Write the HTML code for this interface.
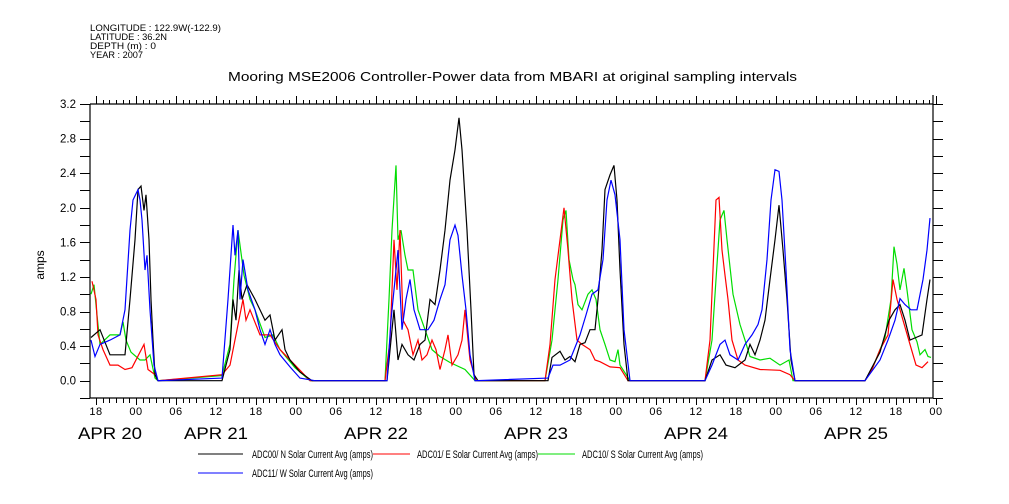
<!DOCTYPE html>
<html><head><meta charset="utf-8"><style>
body{margin:0;background:#fff;}
svg{display:block;font-family:"Liberation Sans",sans-serif;}
</style></head><body>
<svg id="chart" width="1009" height="504" viewBox="0 0 1009 504">
<g font-size="9" fill="#000">
<text x="90" y="31" textLength="131" lengthAdjust="spacingAndGlyphs">LONGITUDE : 122.9W(-122.9)</text>
<text x="90" y="40" textLength="77" lengthAdjust="spacingAndGlyphs">LATITUDE : 36.2N</text>
<text x="90" y="49" textLength="66" lengthAdjust="spacingAndGlyphs">DEPTH (m) : 0</text>
<text x="90" y="58" textLength="53" lengthAdjust="spacingAndGlyphs">YEAR : 2007</text>
</g>
<text x="228" y="81" textLength="569" lengthAdjust="spacingAndGlyphs" font-size="13">Mooring MSE2006 Controller-Power data from MBARI at original sampling intervals</text>
<text transform="translate(44,265) rotate(-90)" text-anchor="middle" font-size="12">amps</text>
<g id="axes"></g>
<g id="series"></g>
<g id="legend" font-size="11">
<line x1="198" y1="454" x2="243" y2="454" stroke="#000"/>
<text x="252" y="458" textLength="121" lengthAdjust="spacingAndGlyphs">ADC00/ N Solar Current Avg (amps)</text>
<line x1="373" y1="454" x2="410" y2="454" stroke="#f00"/>
<text x="417" y="458" textLength="121" lengthAdjust="spacingAndGlyphs">ADC01/ E Solar Current Avg (amps)</text>
<line x1="538" y1="454" x2="575" y2="454" stroke="#0d0"/>
<text x="582" y="458" textLength="121" lengthAdjust="spacingAndGlyphs">ADC10/ S Solar Current Avg (amps)</text>
<line x1="198" y1="473" x2="243" y2="473" stroke="#00f"/>
<text x="252" y="477" textLength="121" lengthAdjust="spacingAndGlyphs">ADC11/ W Solar Current Avg (amps)</text>
</g>
</svg>
<script>
// hours since APR 20 00:00, amps
const blackT=[17.25,18.6,20.1,22.35,23.1,23.85,24.3,24.75,25.2,25.5,25.95,26.25,26.55,26.85,27.3,36.9,38.1,38.55,39,39.45,39.9,40.65,41.85,43.35,44.1,44.85,45.9,46.35,47.1,48.6,50.4,61.65,62.25,62.7,63.3,63.9,64.8,65.7,66.6,67.35,68.1,68.85,69.6,70.35,71.1,71.85,72.45,72.9,73.65,74.25,74.7,75.3,85.8,86.4,87.6,88.35,89.1,89.85,90.6,91.35,92.1,92.85,93.3,93.9,94.35,95.1,95.7,96.15,96.6,97.2,97.8,109.35,110.4,111.6,112.5,113.85,115.35,116.1,116.85,117.6,118.35,119.1,119.85,120.45,121.05,121.65,122.25,122.85,133.35,135.6,136.95,137.85,138.6,139.35,140.1,141,141.9,142.65,143.1];
const blackV=[.50,.59,.30,.30,.94,1.63,2.21,2.25,1.97,2.15,1.63,.94,.47,.07,0,0,.36,.94,.70,1.28,.94,1.11,.94,.70,.76,.47,.59,.36,.24,.10,0,0,.47,.82,.24,.42,.30,.24,.42,.47,.94,.88,1.28,1.74,2.32,2.67,3.04,2.67,1.74,.82,.07,0,0,.27,.34,.24,.28,.22,.42,.44,.59,.59,.94,1.51,2.21,2.38,2.49,2.09,1.28,.42,0,0,.24,.30,.18,.15,.24,.42,.30,.47,.70,1.17,1.63,2.03,1.51,.94,.24,0,0,.33,.70,.82,.88,.70,.47,.50,.53,.94,1.17];
const redT=[17.4,18,18.3,19.05,20.1,21.3,22.35,23.4,25.2,25.8,26.85,27.3,36.9,38.1,39.15,40.05,40.5,41.1,42.6,44.1,45.6,47.85,50.1,61.35,62.1,62.7,63.15,63.6,64.05,64.8,65.55,66.3,66.9,67.65,68.4,69,69.6,70.35,70.8,71.4,72.3,72.9,73.35,74.1,75,85.35,86.1,86.85,87.6,88.2,88.8,89.4,90.15,90.9,92.1,92.85,93.6,95.1,96.6,97.8,109.35,110.1,110.55,111,111.45,111.9,112.35,112.8,113.4,114.3,115.35,117.6,120.6,122.1,122.85,133.35,134.4,135.6,136.8,137.55,138.15,139.05,140.1,141,141.9,142.8];
const redV=[1.15,.94,.53,.36,.18,.18,.13,.15,.42,.13,.07,0,.07,.18,.59,.94,.70,.82,.53,.53,.36,.18,0,0,.47,1.63,1.05,1.74,.70,.59,.30,.47,.24,.30,.47,.36,.13,.36,.53,.18,.30,.47,.82,.24,0,0,.42,1.17,1.63,2.0,1.51,.94,.47,.42,.36,.24,.22,.16,.15,0,0,.47,1.28,2.09,2.12,1.51,1.22,.94,.47,.24,.18,.13,.12,.07,0,0,.13,.36,.53,1.17,.94,.70,.42,.18,.15,.22];
const greenT=[17.25,17.7,18.15,18.6,20.1,21.6,22.05,22.5,23.25,24.6,25.35,26.1,26.85,27.3,36.9,38.1,38.7,39.3,40.2,41.1,41.85,43.35,44.55,45.6,47.85,50.1,61.35,61.95,62.4,63,63.3,63.75,64.35,64.8,65.55,66.3,67.35,68.4,69.6,71.1,73.35,74.85,85.35,86.4,87.3,88.05,88.5,88.95,89.55,89.85,90.3,90.9,91.8,92.4,93,93.6,94.35,95.1,95.85,96.3,96.6,98.1,109.35,110.4,111,111.6,112.2,112.65,113.55,114.6,115.35,116.1,117.6,119.1,120.6,121.95,122.55,133.35,134.4,135.6,136.35,137.25,137.7,138.15,138.6,139.2,139.65,140.4,141.15,141.6,142.35,142.8,143.25];
const greenV=[1.0,1.11,.76,.42,.53,.53,.68,.47,.33,.24,.24,.30,.03,0,.06,.42,1.17,1.74,1.22,.94,.82,.50,.53,.36,.15,0,0,.94,1.74,2.49,1.63,1.74,1.45,1.28,1.28,.82,.59,.36,.28,.21,.13,0,0,.47,1.17,1.86,1.97,1.40,1.17,1.11,.88,.82,1.0,1.05,.94,.59,.42,.24,.22,.36,.18,0,0,.47,1.17,1.86,1.97,1.63,1.0,.65,.47,.28,.24,.26,.18,.24,0,0,.13,.36,.50,.94,1.55,1.35,1.05,1.30,1.05,.59,.45,.30,.36,.28,.27];
const blueT=[17.25,17.85,18.6,20.1,21.6,22.35,23.1,23.55,24.3,24.6,24.9,25.35,25.65,26.1,26.7,27.3,36.9,37.8,38.55,38.85,39.3,39.6,40.05,40.8,41.85,42.6,43.35,44.1,44.85,45.6,47.1,48.6,50.85,61.65,62.25,62.7,63.3,63.9,64.5,65.1,65.7,66.6,67.8,68.7,69.6,70.35,71.1,71.85,72.3,72.9,73.5,74.1,74.85,85.8,86.55,87.6,89.1,90.6,91.5,92.4,93.3,94.05,94.65,95.25,95.85,96.6,97.2,98.1,109.35,110.4,111.6,112.35,113.1,114.3,115.35,116.4,117.3,117.9,118.65,119.25,119.85,120.45,120.9,121.5,122.1,122.85,133.35,135.6,136.8,137.85,138.6,139.35,140.25,141.15,142.05,142.65,143.1];
const blueV=[.47,.28,.42,.47,.53,.82,1.74,2.09,2.21,2.09,1.86,1.28,1.45,.82,.18,0,.03,.94,1.80,1.45,1.74,.94,1.40,1.05,.82,.59,.42,.59,.42,.30,.16,.03,0,0,.70,1.05,1.51,.59,.94,1.17,.82,.59,.59,.70,.94,1.11,1.63,1.80,1.68,1.22,.82,.30,0,.03,.18,.18,.24,.53,.76,1.0,1.05,1.40,2.09,2.32,2.15,1.63,.59,0,0,.18,.42,.47,.30,.24,.42,.53,.65,.82,1.40,2.09,2.44,2.42,2.09,1.28,.36,0,0,.24,.47,.70,.95,.88,.82,.82,1.17,1.51,1.88];
const yTicks=["0.0","0.4","0.8","1.2","1.6","2.0","2.4","2.8","3.2"];
const hourLabels=["00","06","12","18"];
const dateLabels=["APR 20","APR 21","APR 22","APR 23","APR 24","APR 25"];

const NS="http://www.w3.org/2000/svg";
const X0=90,X1=933,YT=104,YB=398;
const T0=17.1,T1=143.55,V0=-0.2,V1=3.2;
const sx=t=>X0+(t-T0)/(T1-T0)*(X1-X0);
const sy=v=>YB-(v-V0)/(V1-V0)*(YB-YT);
function mk(tag,attrs,parent){const e=document.createElementNS(NS,tag);for(const k in attrs)e.setAttribute(k,attrs[k]);parent.appendChild(e);return e;}
const axes=document.getElementById('axes');
const frame=mk('path',{d:`M${X0} ${YT}H${X1}M${X0} ${YT}V${YB}H${X1}M${X1} 95V${YB}`,stroke:'#000',fill:'none','stroke-width':1.2},axes);


for(let i=0;i<=17;i++){const v=V0+i*0.2;const y=Math.round(sy(v))+0.5;
 const tl=mk('line',{x1:80,x2:X0,y1:y,y2:y,stroke:'#000'},axes);
 
 
 const tr=mk('line',{x1:X1,x2:X1+10,y1:y,y2:y,stroke:'#000'},axes);
 
 }
yTicks.forEach(s=>{const t=mk('text',{x:76,y:sy(parseFloat(s))+4,'text-anchor':'end','font-size':11.5},axes);t.textContent=s;
 
 });
for(let h=18;h<=144;h++){const x=Math.round(sx(h))+0.5;const major=h%6===0;
 const b=mk('line',{x1:x,x2:x,y1:YB,y2:YB+(major?7:5),stroke:'#000'},axes);
 
 
 const t=mk('line',{x1:x,x2:x,y1:YT,y2:YT-(major?8:4),stroke:'#000'},axes);
 
 
 if(major){const l=mk('text',{x:sx(h),y:415,'text-anchor':'middle','font-size':11,'letter-spacing':0.5},axes);
  l.textContent=hourLabels[(h%24)/6];
  
  }}
dateLabels.forEach((s,i)=>{const x=i===0?78:sx(i*24+12)-32;
 const t=mk('text',{x:x,y:439,'font-size':16.5,textLength:64,lengthAdjust:'spacingAndGlyphs'},axes);t.textContent=s;
 
 });
const sg=document.getElementById('series');
[[greenT,greenV,'#0d0','series-adc10'],[redT,redV,'#f00','series-adc01'],[blackT,blackV,'#000','series-adc00'],[blueT,blueV,'#00f','series-adc11']].forEach(([T,V,c,n])=>{
 const d=T.map((t,i)=>(i?'L':'M')+sx(t).toFixed(1)+' '+sy(V[i]).toFixed(1)).join('');
 const p=mk('path',{d:d,stroke:c,fill:'none','stroke-width':1.2},sg);
 
 });
</script>
</body></html>
